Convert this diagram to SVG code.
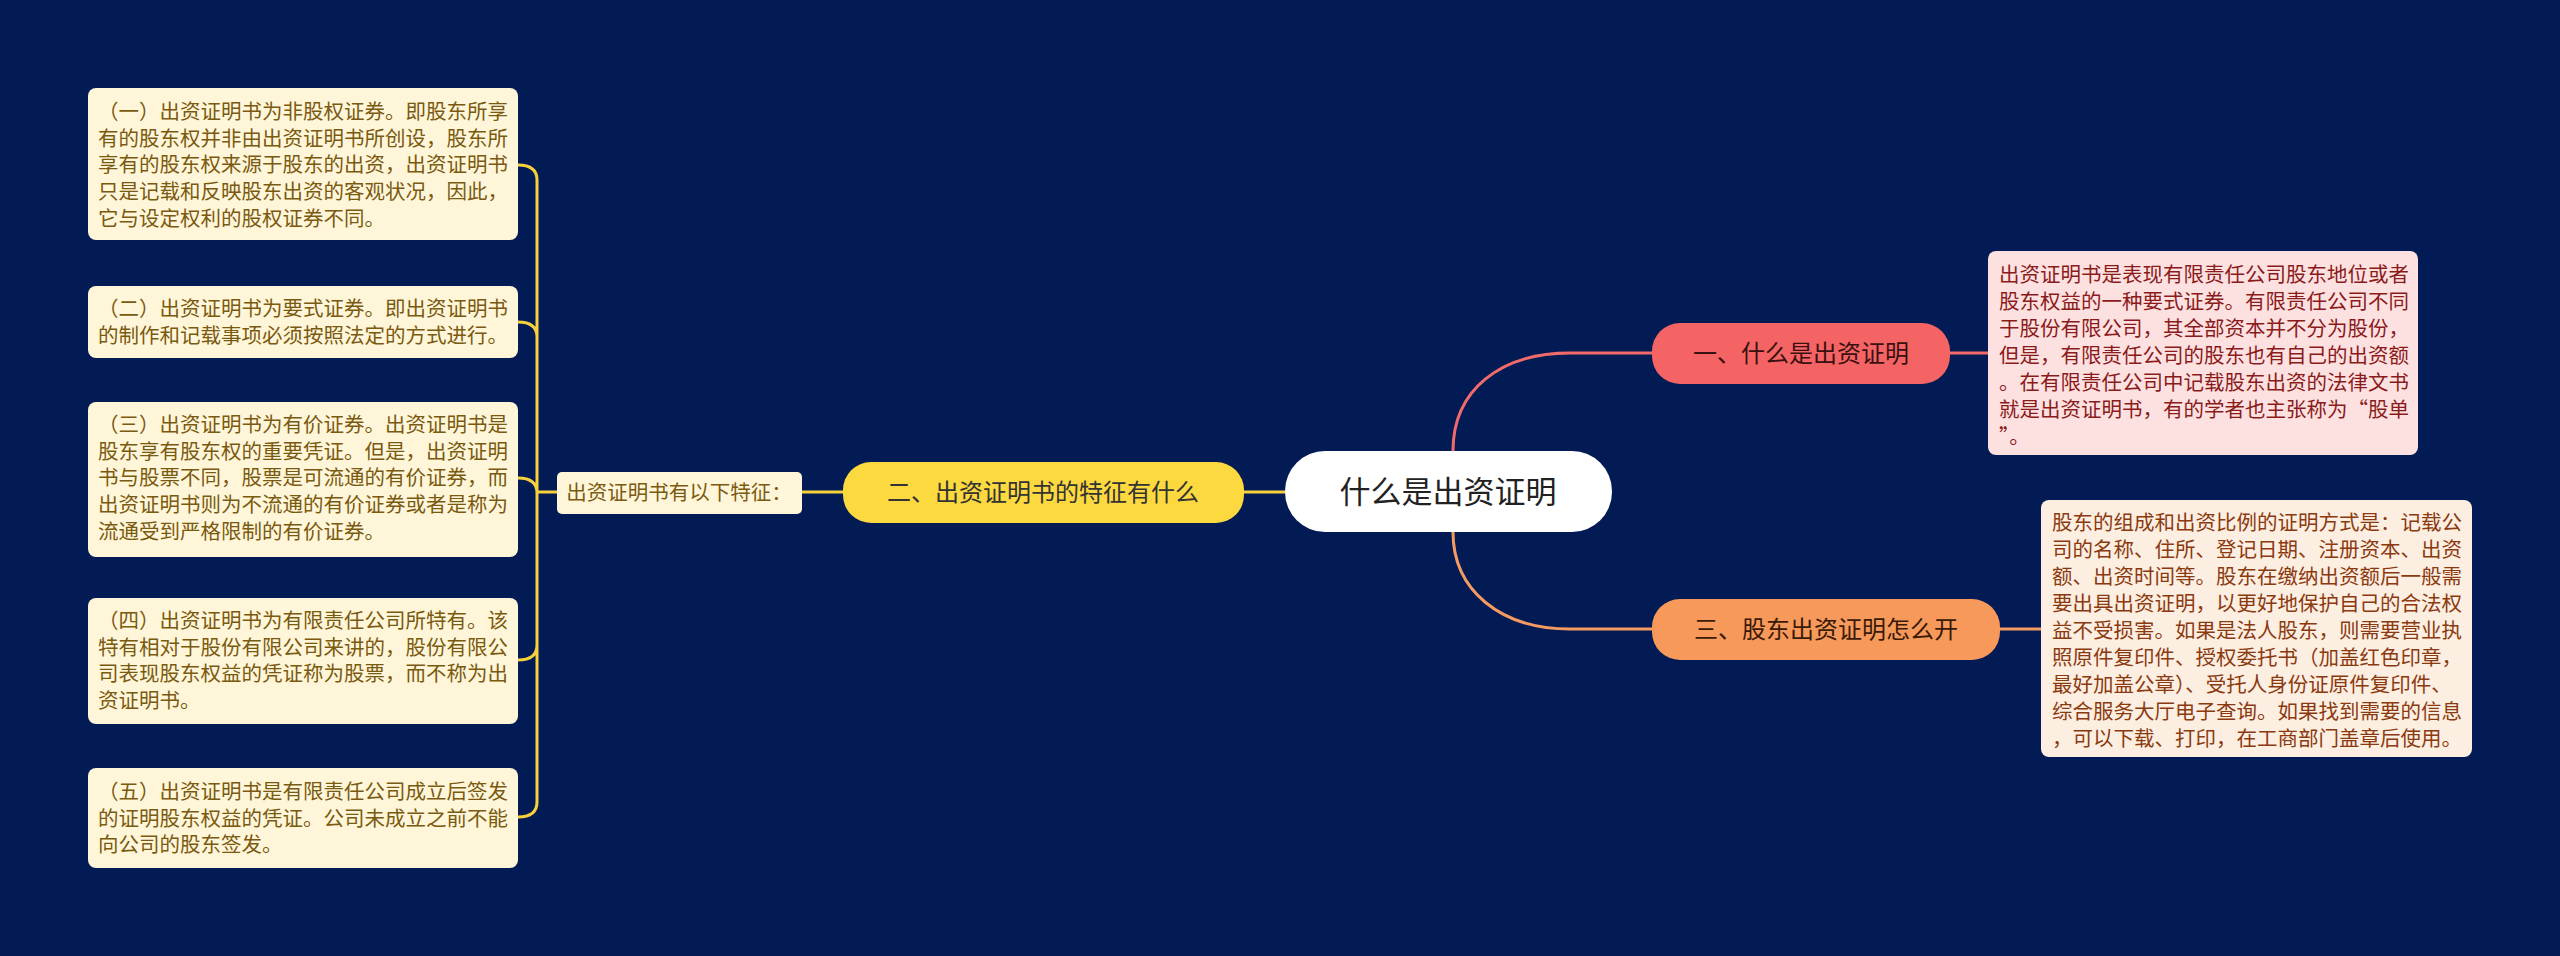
<svg xmlns="http://www.w3.org/2000/svg" width="2560" height="956" viewBox="0 0 2560 956">
<style>
text{font-family:"Noto Sans CJK SC","Noto Sans",sans-serif;}
.lb rect{fill:#fff6d9;}
.lb text{fill:#7a5a10;font-size:20.5px;}
.c{fill:none;stroke-width:3;}
</style>
<rect width="2560" height="956" fill="#031b55"/>
<g id="connectors">
<path class="c" stroke="#f26b6b" d="M1453,451 C1453,390 1500,353 1570,353 L1652,353"/>
<path class="c" stroke="#f59b62" d="M1453,532 C1453,590 1500,629 1570,629 L1652,629"/>
<path class="c" stroke="#f26b6b" d="M1950,353 L1988,353"/>
<path class="c" stroke="#f59b62" d="M2000,629 L2041,629"/>
<path class="c" stroke="#f7d13c" d="M1244,492 L1285,492 M802,492 L843,492 M557,492 L537,492"/>
<path class="c" stroke="#f7d13c" d="M518,165 Q537,165 537,180 L537,802 Q537,817 518,817 M518,322 Q537,322 537,337 M518,478 Q537,478 537,493 M518,660 Q537,660 537,645"/>
</g>
<g id="center"><rect x="1285" y="451" width="327" height="81" rx="40" fill="#fff"/><text x="1448" y="503" text-anchor="middle" font-size="31" fill="#222">什么是出资证明</text></g>
<g id="n1"><rect x="1652" y="323" width="298" height="61" rx="28" fill="#f46464"/><text x="1801" y="362" text-anchor="middle" font-size="24" fill="#3a1010">一、什么是出资证明</text></g>
<g id="n3"><rect x="1652" y="599" width="348" height="61" rx="28" fill="#f7995a"/><text x="1826" y="638" text-anchor="middle" font-size="24" fill="#3a1a08">三、股东出资证明怎么开</text></g>
<g id="n2"><rect x="843" y="462" width="401" height="61" rx="28" fill="#fcd93e"/><text x="1043" y="501" text-anchor="middle" font-size="24" fill="#333">二、出资证明书的特征有什么</text></g>
<g id="lbl" class="lb"><rect x="557" y="472" width="245" height="42" rx="5"/><text x="679" y="500" text-anchor="middle">出资证明书有以下特征：</text></g>
<g id="b1" class="lb"><rect x="88" y="88" width="430" height="152" rx="8"/><text x="98" y="119"><tspan x="98">（一）出资证明书为非股权证券。即股东所享</tspan><tspan x="98" dy="26.7">有的股东权并非由出资证明书所创设，股东所</tspan><tspan x="98" dy="26.7">享有的股东权来源于股东的出资，出资证明书</tspan><tspan x="98" dy="26.7">只是记载和反映股东出资的客观状况，因此，</tspan><tspan x="98" dy="26.7">它与设定权利的股权证券不同。</tspan></text></g>
<g id="b2" class="lb"><rect x="88" y="286" width="430" height="72" rx="8"/><text x="98" y="316"><tspan x="98">（二）出资证明书为要式证券。即出资证明书</tspan><tspan x="98" dy="26.7">的制作和记载事项必须按照法定的方式进行。</tspan></text></g>
<g id="b3" class="lb"><rect x="88" y="402" width="430" height="155" rx="8"/><text x="98" y="432"><tspan x="98">（三）出资证明书为有价证券。出资证明书是</tspan><tspan x="98" dy="26.7">股东享有股东权的重要凭证。但是，出资证明</tspan><tspan x="98" dy="26.7">书与股票不同，股票是可流通的有价证券，而</tspan><tspan x="98" dy="26.7">出资证明书则为不流通的有价证券或者是称为</tspan><tspan x="98" dy="26.7">流通受到严格限制的有价证券。</tspan></text></g>
<g id="b4" class="lb"><rect x="88" y="598" width="430" height="126" rx="8"/><text x="98" y="628"><tspan x="98">（四）出资证明书为有限责任公司所特有。该</tspan><tspan x="98" dy="26.7">特有相对于股份有限公司来讲的，股份有限公</tspan><tspan x="98" dy="26.7">司表现股东权益的凭证称为股票，而不称为出</tspan><tspan x="98" dy="26.7">资证明书。</tspan></text></g>
<g id="b5" class="lb"><rect x="88" y="768" width="430" height="100" rx="8"/><text x="98" y="799"><tspan x="98">（五）出资证明书是有限责任公司成立后签发</tspan><tspan x="98" dy="26.7">的证明股东权益的凭证。公司未成立之前不能</tspan><tspan x="98" dy="26.7">向公司的股东签发。</tspan></text></g>
<g id="r1"><rect x="1988" y="251" width="430" height="204" rx="8" fill="#fde1e1"/><text x="1999" y="282" font-size="20.5" fill="#8b1a1a"><tspan x="1999">出资证明书是表现有限责任公司股东地位或者</tspan><tspan x="1999" dy="27">股东权益的一种要式证券。有限责任公司不同</tspan><tspan x="1999" dy="27">于股份有限公司，其全部资本并不分为股份，</tspan><tspan x="1999" dy="27">但是，有限责任公司的股东也有自己的出资额</tspan><tspan x="1999" dy="27">。在有限责任公司中记载股东出资的法律文书</tspan><tspan x="1999" dy="27">就是出资证明书，有的学者也主张称为“股单</tspan><tspan x="1999" dy="27">”。</tspan></text></g>
<g id="r3"><rect x="2041" y="500" width="431" height="257" rx="8" fill="#fdeee2"/><text x="2052" y="530" font-size="20.5" fill="#8b3a0f"><tspan x="2052">股东的组成和出资比例的证明方式是：记载公</tspan><tspan x="2052" dy="27">司的名称、住所、登记日期、注册资本、出资</tspan><tspan x="2052" dy="27">额、出资时间等。股东在缴纳出资额后一般需</tspan><tspan x="2052" dy="27">要出具出资证明，以更好地保护自己的合法权</tspan><tspan x="2052" dy="27">益不受损害。如果是法人股东，则需要营业执</tspan><tspan x="2052" dy="27">照原件复印件、授权委托书（加盖红色印章，</tspan><tspan x="2052" dy="27">最好加盖公章）、受托人身份证原件复印件、</tspan><tspan x="2052" dy="27">综合服务大厅电子查询。如果找到需要的信息</tspan><tspan x="2052" dy="27">，可以下载、打印，在工商部门盖章后使用。</tspan></text></g>
</svg>
